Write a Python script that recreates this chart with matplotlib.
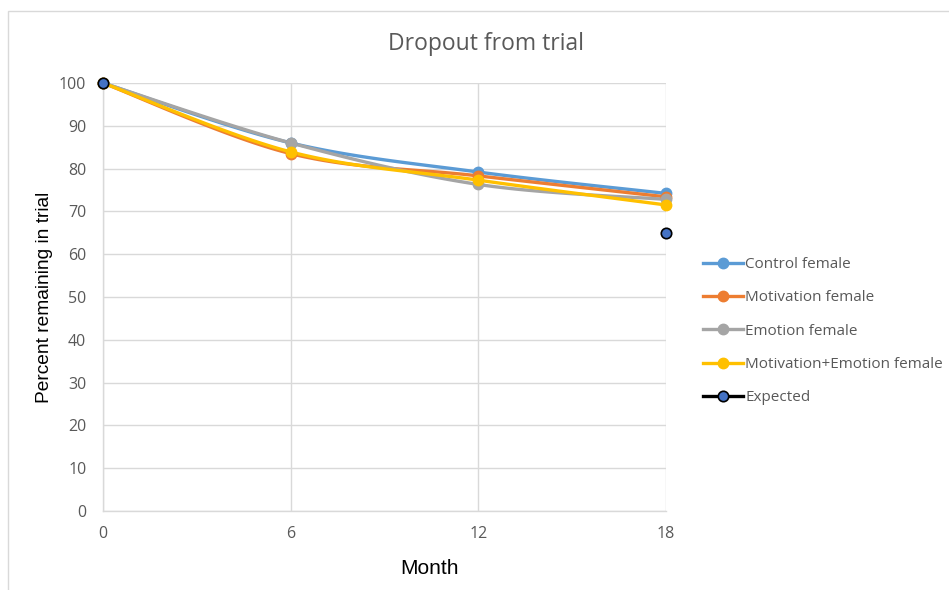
import numpy as np
import matplotlib.pyplot as plt
from matplotlib.patches import Rectangle

months = [0, 6, 12, 18]
control = [100, 86.0, 79.2, 74.2]
motivation = [100, 83.5, 78.3, 73.4]
emotion = [100, 86.0, 76.3, 72.8]
mot_emotion = [100, 83.9, 77.3, 71.5]
expected = [100, np.nan, np.nan, 65.0]

series = [
    ("Control female", control, "#5B9BD5"),
    ("Motivation female", motivation, "#ED7D31"),
    ("Emotion female", emotion, "#A5A5A5"),
    ("Motivation+Emotion female", mot_emotion, "#FFC000"),
]

GREY = "#595959"
plt.rcParams["font.family"] = ["Open Sans", "DejaVu Sans"]


def smooth(x, y, n=40):
    """Excel-like smoothed line (Catmull-Rom as cubic Bezier)."""
    p = np.column_stack([x, y]).astype(float)
    ext = np.vstack([p[0], p, p[-1]])
    out = []
    t = np.linspace(0, 1, n)[:, None]
    for i in range(1, len(ext) - 2):
        p0, p1, p2, p3 = ext[i - 1], ext[i], ext[i + 1], ext[i + 2]
        b1 = p1 + (p2 - p0) / 6
        b2 = p2 - (p3 - p1) / 6
        seg = ((1 - t) ** 3) * p1 + 3 * ((1 - t) ** 2) * t * b1 \
            + 3 * (1 - t) * t ** 2 * b2 + t ** 3 * p2
        out.append(seg)
    pts = np.vstack(out)
    return pts[:, 0], pts[:, 1]


fig = plt.figure(figsize=(9.49, 5.9), dpi=100)
ax = fig.add_axes([103 / 949, 1 - 511 / 590, 563 / 949, 428 / 590])

for label, vals, color in series:
    sx, sy = smooth(months, vals)
    ax.plot(sx, sy, color=color, lw=2.4, solid_capstyle="round", zorder=3,
            clip_on=False)
    ax.plot(months, vals, "o", color=color, ms=7.5, zorder=4, clip_on=False)
    ax.plot([], [], "-o", color=color, lw=2.4, ms=7.5, label=label)

ax.plot(months, expected, "-o", color="black", lw=2.4, ms=7.5,
        markerfacecolor="#4472C4", markeredgecolor="black", markeredgewidth=1.2,
        zorder=5, clip_on=False, label="Expected")

ax.set_xlim(0, 18)
ax.set_ylim(0, 100)
ax.set_xticks(months)
ax.set_yticks(range(0, 101, 10))
ax.grid(True, color="#D9D9D9", lw=1)
ax.set_axisbelow(True)
for side in ["top", "right"]:
    ax.spines[side].set_visible(False)
for side in ["left", "bottom"]:
    ax.spines[side].set_color("#D9D9D9")
    ax.spines[side].set_linewidth(1)
ax.tick_params(length=0, labelsize=11.5, colors=GREY)
ax.tick_params(axis="y", pad=12)
ax.tick_params(axis="x", pad=11)

fig.text(486 / 949, 1 - 44 / 590, "Dropout from trial", ha="center", va="center",
         fontsize=16.5, color=GREY)
fig.text(45 / 949, 1 - 297 / 590, "Percent remaining in trial", rotation=90,
         ha="center", va="center", fontsize=13.8, color="black",
         family=["Liberation Sans", "DejaVu Sans"])
fig.text(429 / 949, 1 - 569 / 590, "Month", ha="center", va="center",
         fontsize=15, color="black", family=["Liberation Sans", "DejaVu Sans"])

leg = fig.legend(loc="upper left", bbox_to_anchor=(697 / 949, 1 - 251 / 590),
                 frameon=False, fontsize=11, handlelength=2.6,
                 handletextpad=0.15, labelspacing=1.2, borderaxespad=0)
for t in leg.get_texts():
    t.set_color(GREY)

fig.patches.append(Rectangle((8 / 949, -0.1), 1.2, 1 - 11 / 590 + 0.1,
                             transform=fig.transFigure, fill=False,
                             edgecolor="#D9D9D9", lw=1))

fig.savefig("out.png", dpi=100)
